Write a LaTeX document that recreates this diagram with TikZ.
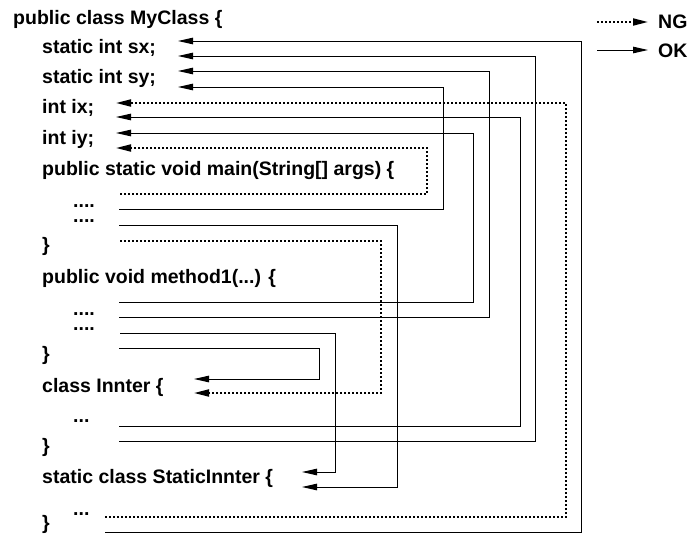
\documentclass[tikz,border=0pt]{standalone}
\usepackage{fontspec}
\setmainfont{Liberation Sans}
\usetikzlibrary{arrows.meta}
\begin{document}
\begin{tikzpicture}[x=1pt,y=-1pt,
  code/.style={anchor=base west, inner sep=0pt, font=\fontsize{19.5}{22}\selectfont\bfseries},
  ok/.style={line width=1pt, -{Triangle[length=15pt,width=6.5pt]}},
  ng/.style={line width=1.8pt, dash pattern=on 1.8pt off 2.2pt, -{Triangle[length=15pt,width=7pt]}}]
\useasboundingbox (0,0) rectangle (688,533);

% source code
\node[code] (cls)   at (13,24)  {public class MyClass \{};
\node[code] (sx)    at (42,53)  {static int sx;};
\node[code] (sy)    at (42,83)  {static int sy;};
\node[code] (ix)    at (42,113) {int ix;};
\node[code] (iy)    at (42,144) {int iy;};
\node[code] (main)  at (42,175) {public static void main(String[] args) \{};
\node[code] (mainA) at (73,207) {....};
\node[code] (mainB) at (73,222) {....};
\node[code] (mainE) at (42,251) {\}};
\node[code] (meth)  at (42,283) {public void method1(...) \{};
\node[code] (methA) at (73,315) {....};
\node[code] (methB) at (73,330) {....};
\node[code] (methE) at (42,360) {\}};
\node[code] (inn)   at (42,392) {class Innter \{};
\node[code] (innA)  at (73,422) {...};
\node[code] (innE)  at (42,452) {\}};
\node[code] (sinn)  at (42,483) {static class StaticInnter \{};
\node[code] (sinnA) at (73,515) {...};
\node[code] (sinnE) at (42,529) {\}};

% legend
\coordinate (ngA) at (597,22);
\coordinate (ngB) at (648,22);
\coordinate (okA) at (597,50);
\coordinate (okB) at (648,50);
\draw[ng] (ngA) -- (ngB);
\draw[ok] (okA) -- (okB);
\node[code] (ngL) at (658,28) {NG};
\node[code] (okL) at (658,57) {OK};

% access paths: start, corner, tip
\coordinate (s1)  at (105,532.5); \coordinate (c1)  at (581,41);  \coordinate (t1)  at (178,41);
\coordinate (s2)  at (119,441);   \coordinate (c2)  at (535,56);  \coordinate (t2)  at (178,56);
\coordinate (s3)  at (119,317);   \coordinate (c3)  at (489,71);  \coordinate (t3)  at (178,71);
\coordinate (s4)  at (119,209);   \coordinate (c4)  at (443,87);  \coordinate (t4)  at (178,87);
\coordinate (s5)  at (105,517);   \coordinate (c5)  at (566,103); \coordinate (t5)  at (116,103);
\coordinate (s6)  at (119,426);   \coordinate (c6)  at (520,117); \coordinate (t6)  at (116,117);
\coordinate (s7)  at (119,302);   \coordinate (c7)  at (473,133); \coordinate (t7)  at (116,133);
\coordinate (s8)  at (120,194);   \coordinate (c8)  at (427,148); \coordinate (t8)  at (116,148);
\coordinate (s9)  at (120,241);   \coordinate (c9)  at (381,393); \coordinate (t9)  at (194,393);
\coordinate (s10) at (119,348);   \coordinate (c10) at (319,379); \coordinate (t10) at (194,379);
\coordinate (s11) at (120,333);   \coordinate (c11) at (335,472); \coordinate (t11) at (302,472);
\coordinate (s12) at (119,225);   \coordinate (c12) at (397,487); \coordinate (t12) at (302,487);

\draw[ok] (s1)  -| (c1)  -- (t1);
\draw[ok] (s2)  -| (c2)  -- (t2);
\draw[ok] (s3)  -| (c3)  -- (t3);
\draw[ok] (s4)  -| (c4)  -- (t4);
\draw[ng] (s5)  -| (c5)  -- (t5);
\draw[ok] (s6)  -| (c6)  -- (t6);
\draw[ok] (s7)  -| (c7)  -- (t7);
\draw[ng] (s8)  -| (c8)  -- (t8);
\draw[ng] (s9)  -| (c9)  -- (t9);
\draw[ok] (s10) -| (c10) -- (t10);
\draw[ok] (s11) -| (c11) -- (t11);
\draw[ok] (s12) -| (c12) -- (t12);
\end{tikzpicture}
\end{document}
